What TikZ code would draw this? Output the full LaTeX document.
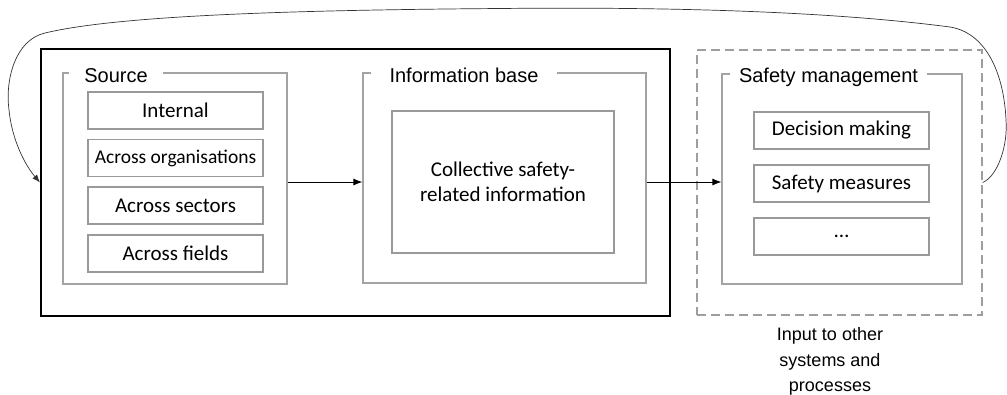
\documentclass[tikz,border=0pt]{standalone}
\usepackage{fontspec}
\setmainfont{Carlito}
\newfontfamily\headfont{Liberation Sans}
\usetikzlibrary{arrows.meta,calc}

\definecolor{grpgray}{HTML}{A3A3A3}
\definecolor{boxgray}{HTML}{999999}
\definecolor{dashgray}{HTML}{9E9E9E}

\tikzset{
  outerbox/.style={draw=black, line width=2pt, inner sep=0pt},
  extbox/.style={draw=dashgray, line width=1.3pt, dash pattern=on 9pt off 5pt, inner sep=0pt},
  groupbox/.style={draw=grpgray, line width=1.3pt, inner sep=0pt},
  itembox/.style={draw=boxgray, line width=1.2pt, inner sep=0pt,
    minimum width=175pt, minimum height=37pt,
    font=\fontsize{21}{25}\selectfont},
  grouplabel/.style={fill=white, anchor=base, inner xsep=0pt, inner ysep=2pt,
    font=\headfont\fontsize{20}{24}\selectfont},
  flow/.style={line width=0.8pt, -{Latex[length=9pt,width=7pt]}},
  feedback/.style={line width=0.7pt, draw=black!80, -{Latex[length=8pt,width=6pt]}},
}

\begin{document}
\begin{tikzpicture}[x=1pt, y=-1pt]
\useasboundingbox (0,0) rectangle (1007,394);

% frames
\node[outerbox, minimum width=629pt, minimum height=267pt] (sys) at (355.5,182.5) {};
\node[extbox, minimum width=285pt, minimum height=265pt] (ext) at (839.5,182.5) {};

% group boxes
\node[groupbox, minimum width=224pt, minimum height=211pt] (src) at (175,178.5) {};
\node[groupbox, minimum width=283pt, minimum height=210pt] (info) at (504.5,178) {};
\node[groupbox, minimum width=240pt, minimum height=210pt] (safe) at (842,179) {};

% group titles sitting on the top edges
\node[grouplabel, minimum width=94pt] (srclbl) at (116,82) {Source};
\node[grouplabel, minimum width=186pt] (infolbl) at (464,82) {Information base};
\node[grouplabel, minimum width=197pt] (safelbl) at (828.5,82) {Safety management};

% source items
\node[itembox] (internal) at (175.5,110.5) {Internal};
\node[itembox, font=\fontsize{19.5}{23}\selectfont] (orgs) at (175.5,158) {Across organisations};
\node[itembox] (sectors) at (175.5,205.5) {Across sectors};
\node[itembox] (fields) at (175.5,253.5) {Across fields};

% information base content
\node[itembox, minimum width=222pt, minimum height=142pt, align=center] (coll) at (503,182)
  {Collective safety-\\related information};

% safety management items
\node[itembox] (decision) at (841.5,130.5) {Decision making};
\node[itembox] (measures) at (841.5,183.5) {Safety measures};
\node[itembox] (more) at (841.5,236.5) {\ldots};

% caption under the dashed frame
\node[anchor=north, align=center, inner sep=0pt,
  font=\headfont\fontsize{18}{25.5}\selectfont] (caption) at (830,327.5)
  {Input to other\\systems and\\processes};

% flow arrows
\draw[flow] (src.east |- coll.center) -- (info.west |- coll.center);
\draw[flow] (info.east |- coll.center) -- (safe.west |- coll.center);

% feedback loop over the top
\draw[feedback] (ext.east)
  .. controls (998,176) and (1008,145) .. (1006,120)
  .. controls (1004,75) and (987,33) .. (950,27)
  .. controls (820,10) and (650,7) .. (500,8.5)
  .. controls (300,10) and (120,15) .. (45,33)
  .. controls (15,40) and (5,80) .. (9,110)
  .. controls (12,140) and (25,165) .. (sys.west);
\end{tikzpicture}
\end{document}
